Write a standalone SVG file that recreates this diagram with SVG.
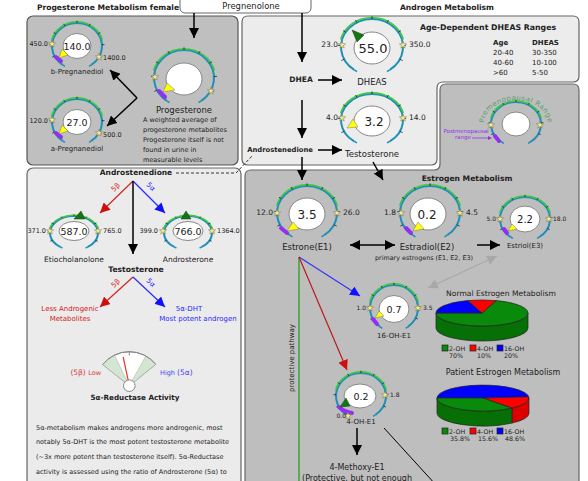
<svg xmlns="http://www.w3.org/2000/svg" xmlns:xlink="http://www.w3.org/1999/xlink" width="588" height="481" viewBox="0 0 588 481">
<style>
.t{font-family:"DejaVu Sans","Liberation Sans",sans-serif;fill:#222}
.b{font-weight:bold}
.m{text-anchor:middle}
.e{text-anchor:end}
.lbl{font-size:6.5px}
.ic{fill:#fff;stroke:#888;stroke-width:1}
.pm{stroke:#9030f0;stroke-width:4;stroke-linecap:round;fill:none}
.py{fill:#ffff00;stroke:#777;stroke-width:0.5}
.pg{fill:#0c7a0c;stroke:#333;stroke-width:0.5}
.ln{stroke:#000;stroke-width:1.5;fill:none}
.sl{stroke:#222;stroke-width:0.7}
</style>
<defs>
<marker id="ah" viewBox="0 0 10 10" refX="10" refY="5" markerWidth="10" markerHeight="10" markerUnits="userSpaceOnUse" orient="auto-start-reverse"><path d="M0,0 L10,5 L0,10 z" fill="#000"/></marker>
<marker id="ahr" viewBox="0 0 10 10" refX="10" refY="5" markerWidth="10" markerHeight="10" markerUnits="userSpaceOnUse" orient="auto"><path d="M0,0 L10,5 L0,10 z" fill="#cc1010"/></marker>
<marker id="ahb" viewBox="0 0 10 10" refX="10" refY="5" markerWidth="10" markerHeight="10" markerUnits="userSpaceOnUse" orient="auto"><path d="M0,0 L10,5 L0,10 z" fill="#1010ff"/></marker>
<marker id="ahg" viewBox="0 0 10 10" refX="10" refY="5" markerWidth="10" markerHeight="10" markerUnits="userSpaceOnUse" orient="auto-start-reverse"><path d="M0,0 L10,5 L0,10 z" fill="#a8a8a8"/></marker>
<g id="gauge">
<path d="M-17.21,24.57 A30,30 0 1 1 17.21,24.57" fill="none" stroke="#1f8fb8" stroke-width="2" vector-effect="non-scaling-stroke"/>
<path d="M-30.43,-8.15 A31.5,31.5 0 0 1 30.43,-8.15" fill="none" stroke="#40c840" stroke-width="1.5" vector-effect="non-scaling-stroke"/>
<path d="M-17.21,24.57 L-14.5,26.5 M17.21,24.57 L14.5,26.5" stroke="#1f8fb8" stroke-width="1.5" vector-effect="non-scaling-stroke"/>
<path d="M-26.96,13.15 L-29.66,14.47 M-29.96,-1.57 L-32.95,-1.73 M-25.44,-15.9 L-27.98,-17.49 M-14.54,-26.24 L-16,-28.86 M0,-30 L0,-33 M14.54,-26.24 L16,-28.86 M25.44,-15.9 L27.98,-17.49 M29.96,-1.57 L32.95,-1.73 M26.96,13.15 L29.66,14.47" stroke="#222" stroke-width="0.8" vector-effect="non-scaling-stroke"/>
</g>
<path id="star" d="M0,-3.8 L0.94,-1.29 L3.61,-1.17 L1.52,0.49 L2.23,3.07 L0,1.6 L-2.23,3.07 L-1.52,0.49 L-3.61,-1.17 L-0.94,-1.29 Z" fill="#f5eb8c" stroke="#7a7046" stroke-width="0.5"/>
<path id="premArc" d="M484,124 A32,24 0 0 1 548,124"/>
</defs>

<!-- panels -->
<g id="panels">
<rect x="27" y="16" width="211" height="149" rx="6" fill="#bfbfbf" stroke="#555" stroke-width="1.2"/>
<path d="M248,16 L573,16 Q579,16 579,22 L579,76 Q579,82 573,82 L443,82 Q437,82 437,88 L437,159 Q437,165 431,165 L248,165 Q242,165 242,159 L242,22 Q242,16 248,16 Z" fill="#ececec" stroke="#666" stroke-width="1.2"/>
<rect x="27" y="168" width="214" height="330" rx="6" fill="#ecebeb" stroke="#666" stroke-width="1.2"/>
<path d="M446,84 L573,84 Q579,84 579,90 L579,495 L245,495 L245,176 Q245,170 251,170 L434,170 Q440,170 440,164 L440,90 Q440,84 446,84 Z" fill="#bebebe" stroke="#666" stroke-width="1.2"/>
<rect x="180" y="-6" width="131" height="19" rx="5" fill="#fff" stroke="#666" stroke-width="1"/>
</g>

<g id="titles">
<text class="t b m" x="108" y="10" font-size="7.6">Progesterone Metabolism female</text>
<text class="t b m" x="447" y="10" font-size="7.6">Androgen Metabolism</text>
<text class="t m" x="251" y="9" font-size="8.4">Pregnenolone</text>
<text class="t b m" x="467" y="181" font-size="7.6">Estrogen Metabolism</text>
</g>

<!-- connectors -->
<g id="connectors">
<line class="ln" x1="194" y1="13" x2="194" y2="38" marker-end="url(#ah)"/>
<line class="ln" x1="137" y1="98" x2="110" y2="70" marker-end="url(#ah)"/>
<line class="ln" x1="137" y1="98" x2="107" y2="126" marker-end="url(#ah)"/>
<line class="ln" x1="302" y1="13" x2="302" y2="62" marker-end="url(#ah)"/>
<line class="ln" x1="318" y1="80" x2="342" y2="80" marker-end="url(#ah)"/>
<line class="ln" x1="302" y1="100" x2="302" y2="138" marker-end="url(#ah)"/>
<line class="ln" x1="318" y1="150" x2="342" y2="150" marker-end="url(#ah)"/>
<line class="ln" x1="302" y1="157" x2="302" y2="180" marker-end="url(#ah)"/>
<line class="ln" x1="373" y1="162" x2="383" y2="180" marker-end="url(#ah)"/>
<polyline points="176,173 236,173 252,156" fill="none" stroke="#333" stroke-width="1" stroke-dasharray="3,2"/>
<line class="ln" x1="350" y1="245" x2="395" y2="245" marker-start="url(#ah)" marker-end="url(#ah)"/>
<line class="ln" x1="477" y1="245" x2="500" y2="245" marker-end="url(#ah)"/>
<line x1="428" y1="288" x2="497" y2="256" stroke="#a8a8a8" stroke-width="1.2" marker-start="url(#ahg)" marker-end="url(#ahg)"/>
<line x1="299" y1="257" x2="299" y2="490" stroke="#1a9a1a" stroke-width="1.2"/>
<line x1="299" y1="257" x2="360" y2="296" stroke="#3535f0" stroke-width="1.2" marker-end="url(#ahb)"/>
<line x1="299" y1="257" x2="347" y2="370" stroke="#c01818" stroke-width="1.2" marker-end="url(#ahr)"/>
<line class="ln" x1="357" y1="428" x2="357" y2="455" marker-end="url(#ah)"/>
<line x1="384" y1="428" x2="436" y2="485" stroke="#000" stroke-width="1"/>
<line x1="133" y1="181" x2="100" y2="213" stroke="#d42020" stroke-width="1.2" marker-end="url(#ahr)"/>
<line x1="133" y1="181" x2="165" y2="213" stroke="#2a2aff" stroke-width="1.2" marker-end="url(#ahb)"/>
<line class="ln" x1="133" y1="181" x2="133" y2="254" marker-end="url(#ah)"/>
<line x1="133" y1="277" x2="100" y2="307" stroke="#d42020" stroke-width="1.2" marker-end="url(#ahr)"/>
<line x1="133" y1="277" x2="165" y2="307" stroke="#2a2aff" stroke-width="1.2" marker-end="url(#ahb)"/>
<text class="t" x="0" y="0" font-size="7" fill="#d42020" style="fill:#d42020" transform="translate(114,192) rotate(-45)">5β</text>
<text class="t" x="0" y="0" font-size="7" style="fill:#2a2aff" transform="translate(146,185) rotate(45)">5α</text>
<text class="t" x="0" y="0" font-size="7" style="fill:#d42020" transform="translate(114,288) rotate(-45)">5β</text>
<text class="t" x="0" y="0" font-size="7" style="fill:#2a2aff" transform="translate(146,281) rotate(45)">5α</text>
<text class="t m" x="0" y="0" font-size="7" transform="translate(294,358) rotate(-90)">protective pathway</text>
</g>

<!-- Progesterone panel nodes -->
<g id="node-b-pregnanediol">
<use href="#gauge" transform="translate(77,46) scale(0.833,0.767)"/>
<ellipse class="ic" cx="77" cy="46" rx="14" ry="12.5"/>
<use href="#star" x="52" y="44"/><use href="#star" x="99" y="57"/>
<line class="pm" x1="56" y1="57" x2="61" y2="61"/>
<polygon class="py" points="59,58 62,49 68,55"/>
<text class="t m" x="77" y="49.5" font-size="9.5">140.0</text>
<text class="t e lbl" x="48" y="46">450.0</text>
<text class="t lbl" x="103" y="60">1400.0</text>
<text class="t m" x="77" y="74" font-size="7">b-Pregnanediol</text>
</g>
<g id="node-a-pregnanediol">
<use href="#gauge" transform="translate(77,122) scale(0.833,0.767)"/>
<ellipse class="ic" cx="77" cy="122" rx="14" ry="12.5"/>
<use href="#star" x="52" y="120"/><use href="#star" x="99" y="133"/>
<line class="pm" x1="56" y1="133" x2="61" y2="137"/>
<polygon class="py" points="59,134 62,125 68,131"/>
<text class="t m" x="77" y="125.5" font-size="9.5">27.0</text>
<text class="t e lbl" x="48" y="123">120.0</text>
<text class="t lbl" x="103" y="137">500.0</text>
<text class="t m" x="77" y="151" font-size="7">a-Pregnanediol</text>
</g>
<g id="node-progesterone">
<use href="#gauge" transform="translate(184,78) scale(1,0.93)"/>
<ellipse class="ic" cx="184" cy="79" rx="18" ry="16"/>
<use href="#star" x="155" y="77"/><use href="#star" x="211" y="91"/>
<line class="pm" x1="159" y1="91" x2="165" y2="97"/>
<polygon class="py" points="163,92 167,83 175,90"/>
<text class="t m" x="184" y="113" font-size="8.5">Progesterone</text>
<text class="t" font-size="6.5"><tspan x="143" y="122">A weighted average of</tspan><tspan x="143" y="132">progesterone  metabolites</tspan><tspan x="143" y="142">Progesterone itself is not</tspan><tspan x="143" y="152">found in urine in</tspan><tspan x="143" y="162">measurable levels</tspan></text>
</g>

<!-- Androgen panel nodes -->
<g id="node-dhea"><text class="t b m" x="301" y="82" font-size="7.5">DHEA</text></g>
<g id="node-dheas">
<use href="#gauge" transform="translate(372,47) scale(1.033,0.933)"/>
<ellipse class="ic" cx="372" cy="48" rx="18" ry="16"/>
<use href="#star" x="342" y="45"/><use href="#star" x="403" y="45"/>
<polygon class="pg" points="352,30 364,35 357,42"/>
<text class="t m" x="373" y="53" font-size="13">55.0</text>
<text class="t e" x="338" y="47" font-size="7.5">23.0</text>
<text class="t" x="409" y="47" font-size="7.5">350.0</text>
<text class="t m" x="372" y="85" font-size="8.5">DHEAS</text>
</g>
<g id="node-dheas-ranges">
<text class="t b m" x="488" y="30" font-size="7.8">Age-Dependent DHEAS Ranges</text>
<text class="t b" x="493" y="45" font-size="7">Age</text>
<text class="t b" x="532" y="45" font-size="7">DHEAS</text>
<text class="t" font-size="7"><tspan x="493" y="55">20-40</tspan><tspan x="493" y="64.5">40-60</tspan><tspan x="493" y="74.5">&gt;60</tspan></text>
<text class="t" font-size="7"><tspan x="532" y="55">30-350</tspan><tspan x="532" y="64.5">10-100</tspan><tspan x="532" y="74.5">5-50</tspan></text>
</g>
<g id="node-androstenedione"><text class="t b m" x="280" y="152" font-size="6.8">Androstenedione</text></g>
<g id="node-testosterone">
<use href="#gauge" transform="translate(372,120) scale(1.033,0.867)"/>
<ellipse class="ic" cx="372" cy="121" rx="18" ry="15"/>
<use href="#star" x="342" y="118"/><use href="#star" x="403" y="118"/>
<polygon class="py" points="347,128 353,119 358,127"/>
<text class="t m" x="374" y="125.5" font-size="12">3.2</text>
<text class="t e" x="338" y="120" font-size="7.5">4.0</text>
<text class="t" x="409" y="120" font-size="7.5">14.0</text>
<text class="t m" x="372" y="157" font-size="8.5">Testosterone</text>
</g>
<g id="node-legend-gauge">
<use href="#gauge" transform="translate(516,124) scale(0.833,0.733)"/>
<ellipse class="ic" cx="516" cy="124" rx="14" ry="12"/>
<use href="#star" x="491" y="125"/><use href="#star" x="540" y="125"/>
<line class="pm" x1="495" y1="136" x2="499" y2="141"/>
<text class="t" font-size="7" letter-spacing="0.4" style="fill:#5f9f6f"><textPath href="#premArc" startOffset="50%" text-anchor="middle">Premenopausal Range</textPath></text>
<text class="t m" font-size="5.5" style="fill:#9030f0"><tspan x="466" y="133">Postmenopausal</tspan><tspan x="463" y="139">range</tspan></text>
<line x1="472" y1="138" x2="489" y2="138" stroke="#9030f0" stroke-width="0.8"/>
<path d="M488,136 L492,138 L488,140 z" fill="#9030f0"/>
</g>

<!-- Estrogen panel nodes -->
<g id="node-estrone">
<use href="#gauge" transform="translate(307,213) scale(1,0.9)"/>
<ellipse class="ic" cx="307" cy="214" rx="18" ry="16"/>
<use href="#star" x="277" y="213"/><use href="#star" x="337" y="213"/>
<line class="pm" x1="281" y1="228" x2="287" y2="233"/>
<polygon class="py" points="287,231 293,222 299,229"/>
<text class="t m" x="307" y="218.5" font-size="12">3.5</text>
<text class="t e" x="273" y="215" font-size="7.5">12.0</text>
<text class="t" x="343" y="215" font-size="7.5">26.0</text>
<text class="t m" x="307" y="250" font-size="8.5">Estrone(E1)</text>
</g>
<g id="node-estradiol">
<use href="#gauge" transform="translate(430,213) scale(1,0.9)"/>
<ellipse class="ic" cx="428" cy="214" rx="18" ry="16"/>
<use href="#star" x="401" y="213"/><use href="#star" x="460" y="213"/>
<line class="pm" x1="406" y1="228" x2="411" y2="233"/>
<polygon class="py" points="413,231 418,222 424,229"/>
<text class="t m" x="427" y="218.5" font-size="12">0.2</text>
<text class="t e" x="396" y="215" font-size="7.5">1.8</text>
<text class="t" x="466" y="215" font-size="7.5">4.5</text>
<text class="t m" x="427" y="250" font-size="8.5">Estradiol(E2)</text>
<text class="t m" x="424" y="260" font-size="6.4">primary estrogens (E1, E2, E3)</text>
</g>
<g id="node-estriol">
<use href="#gauge" transform="translate(525,219) scale(0.833,0.733)"/>
<ellipse class="ic" cx="525" cy="219" rx="15" ry="13"/>
<use href="#star" x="500" y="219"/><use href="#star" x="549" y="219"/>
<line class="pm" x1="504" y1="229" x2="507" y2="233"/>
<polygon class="py" points="508,231 512,224 517,229"/>
<text class="t m" x="525" y="223" font-size="10">2.2</text>
<text class="t e" x="496" y="221" font-size="6">5.0</text>
<text class="t" x="553" y="221" font-size="6">18.0</text>
<text class="t m" x="525" y="248" font-size="7">Estriol(E3)</text>
</g>
<g id="node-16-oh-e1">
<use href="#gauge" transform="translate(394,308) scale(0.8,0.767)"/>
<ellipse class="ic" cx="394" cy="309" rx="15" ry="13.5"/>
<use href="#star" x="370" y="308"/><use href="#star" x="418" y="308"/>
<line class="pm" x1="373" y1="319" x2="377" y2="324"/>
<polygon class="py" points="375,318 379,311 384,316"/>
<text class="t m" x="394" y="312.5" font-size="9.5">0.7</text>
<text class="t e" x="366" y="310" font-size="6">1.0</text>
<text class="t" x="423" y="310" font-size="6">3.5</text>
<text class="t m" x="394" y="338" font-size="7">16-OH-E1</text>
</g>
<g id="node-4-oh-e1">
<use href="#gauge" transform="translate(361,396) scale(0.833,0.767)"/>
<ellipse class="ic" cx="360" cy="396" rx="16" ry="12"/>
<path class="pm" d="M339,407 Q344,412 352,413"/>
<use href="#star" x="385" y="395"/><use href="#star" x="348" y="416"/>
<polygon class="pg" points="340,407 346,398 350,406"/>
<text class="t m" x="361" y="400" font-size="9.5">0.2</text>
<text class="t" x="390" y="397" font-size="6">1.8</text>
<text class="t e" x="346" y="418" font-size="6">0.0</text>
<text class="t m" x="361" y="424" font-size="7">4-OH-E1</text>
</g>
<g id="node-4-methoxy-e1">
<text class="t m" font-size="8"><tspan x="357" y="470">4-Methoxy-E1</tspan><tspan x="357" y="480.5">(Protective, but not enough</tspan></text>
</g>
<g id="node-normal-pie">
<text class="t m" x="501" y="296" font-size="7.6">Normal Estrogen Metabolism</text>
<path class="sl" d="M436,313 A46,13 0 0 0 528,313 L528,328 A46,13 0 0 1 436,328 Z" fill="#067006"/>
<path class="sl" d="M482,313 L496.2,300.6 A46,13 0 1 1 436,313 Z" fill="#0a8a0a"/>
<path class="sl" d="M482,313 L436,313 A46,13 0 0 1 467.8,300.6 Z" fill="#0000ff"/>
<path class="sl" d="M482,313 L467.8,300.6 A46,13 0 0 1 496.2,300.6 Z" fill="#ff0000"/>
<rect class="sl" x="442" y="345" width="6" height="6" fill="#0a8a0a"/>
<rect class="sl" x="470" y="345" width="6" height="6" fill="#ff0000"/>
<rect class="sl" x="497" y="345" width="6" height="6" fill="#0000ff"/>
<text class="t" font-size="6.3"><tspan x="449" y="351">2-OH</tspan><tspan x="477" y="351">4-OH</tspan><tspan x="504" y="351">16-OH</tspan></text>
<text class="t m" font-size="6.3"><tspan x="456" y="357.5">70%</tspan><tspan x="484" y="357.5">10%</tspan><tspan x="511" y="357.5">20%</tspan></text>
</g>
<g id="node-patient-pie">
<text class="t m" x="503" y="375" font-size="8">Patient Estrogen Metabolism</text>
<path class="sl" d="M529,398 A46,13 0 0 1 511.9,408.1 L511.9,423.1 A46,13 0 0 0 529,413 Z" fill="#dd0000"/>
<path class="sl" d="M511.9,408.1 A46,13 0 0 1 437,398 L437,413 A46,13 0 0 0 511.9,423.1 Z" fill="#067006"/>
<path class="sl" d="M483,398 L437,398 A46,13 0 0 1 528.8,396.9 Z" fill="#0000ff"/>
<path class="sl" d="M483,398 L528.8,396.9 A46,13 0 0 1 511.9,408.1 Z" fill="#ff0000"/>
<path class="sl" d="M483,398 L511.9,408.1 A46,13 0 0 1 437,398 Z" fill="#0a8a0a"/>
<rect class="sl" x="442" y="428" width="6" height="6" fill="#0a8a0a"/>
<rect class="sl" x="470" y="428" width="6" height="6" fill="#ff0000"/>
<rect class="sl" x="497" y="428" width="6" height="6" fill="#0000ff"/>
<text class="t" font-size="6.3"><tspan x="449" y="434">2-OH</tspan><tspan x="477" y="434">4-OH</tspan><tspan x="504" y="434">16-OH</tspan></text>
<text class="t m" font-size="6.3"><tspan x="460" y="440.5">35.8%</tspan><tspan x="488" y="440.5">15.6%</tspan><tspan x="515" y="440.5">48.6%</tspan></text>
</g>

<!-- Left androgen panel nodes -->
<g id="node-androstenedione-left"><text class="t b m" x="136" y="175" font-size="7.5">Androstenedione</text></g>
<g id="node-etiocholanolone">
<use href="#gauge" transform="translate(74,233) scale(0.8,0.567)"/>
<ellipse class="ic" cx="74" cy="231" rx="15" ry="9.5"/>
<use href="#star" x="50" y="231"/><use href="#star" x="98" y="231"/>
<polygon class="pg" points="81,211 74,219 85,219"/>
<text class="t m" x="74" y="234.5" font-size="9.5">587.0</text>
<text class="t e lbl" x="46" y="233">371.0</text>
<text class="t lbl" x="103" y="233">765.0</text>
<text class="t m" x="74" y="262" font-size="7.5">Etiocholanolone</text>
</g>
<g id="node-androsterone">
<use href="#gauge" transform="translate(188,233) scale(0.8,0.567)"/>
<ellipse class="ic" cx="188" cy="231" rx="15" ry="9.5"/>
<use href="#star" x="163" y="231"/><use href="#star" x="212" y="231"/>
<polygon class="pg" points="186,211 181,219 191,219"/>
<text class="t m" x="188" y="234.5" font-size="9.5">766.0</text>
<text class="t e lbl" x="158" y="233">399.0</text>
<text class="t lbl" x="217" y="233">1364.0</text>
<text class="t m" x="188" y="262" font-size="7.5">Androsterone</text>
</g>
<g id="node-testosterone-left"><text class="t b m" x="136" y="272" font-size="7.6">Testosterone</text></g>
<g id="node-less-androgenic"><text class="t m" font-size="7" style="fill:#d42020"><tspan x="70" y="311">Less Androgenic</tspan><tspan x="70" y="321">Metabolites</tspan></text></g>
<g id="node-5a-dht"><text class="t m" font-size="7" style="fill:#2a2aff"><tspan x="189" y="311">5α-DHT</tspan><tspan x="198" y="321">Most potent androgen</tspan></text></g>
<g id="node-dial">
<path d="M129.3,385.7 L102.7,364.5 A34,34 0 0 1 155.7,364.3 Z" fill="#fff" stroke="#888" stroke-width="1"/>
<path d="M129.3,385.7 L102.7,364.5 A34,34 0 0 1 114.4,355.1 Z" fill="#d2e6d2" stroke="#aaa" stroke-width="0.5"/>
<path d="M129.3,385.7 L145.8,356 A34,34 0 0 1 155.7,364.3 Z" fill="#d2e6d2" stroke="#aaa" stroke-width="0.5"/>
<path d="M102.7,364.5 A34,34 0 0 1 155.7,364.3" fill="none" stroke="#888" stroke-width="1"/>
<line x1="129.3" y1="351.7" x2="129.3" y2="355.5" stroke="#888" stroke-width="1"/>
<line x1="129.3" y1="385.7" x2="123.2" y2="357" stroke="#e8413a" stroke-width="1.3"/>
<circle cx="129.3" cy="385.7" r="5.8" fill="#fff" stroke="#888" stroke-width="1"/>
<text class="t e" x="101" y="375" style="fill:#d04040"><tspan font-size="7.5">(5β) </tspan><tspan font-size="6.5">Low</tspan></text>
<text class="t" x="160" y="375" style="fill:#4444ee"><tspan font-size="6.5">High </tspan><tspan font-size="7.5">(5α)</tspan></text>
<text class="t b m" x="135" y="400" font-size="7.2">5α-Reductase Activity</text>
</g>
<g id="node-paragraph">
<text class="t" font-size="6.5"><tspan x="36" y="430">5α-metabolism makes androgens more androgenic, most</tspan><tspan x="36" y="444">notably 5α-DHT is the most potent testosterone metabolite</tspan><tspan x="36" y="459">(~3x more potent than testosterone itself). 5α-Reductase</tspan><tspan x="36" y="474">activity is assessed using the ratio of Androsterone (5α) to</tspan></text>
</g>
</svg>
